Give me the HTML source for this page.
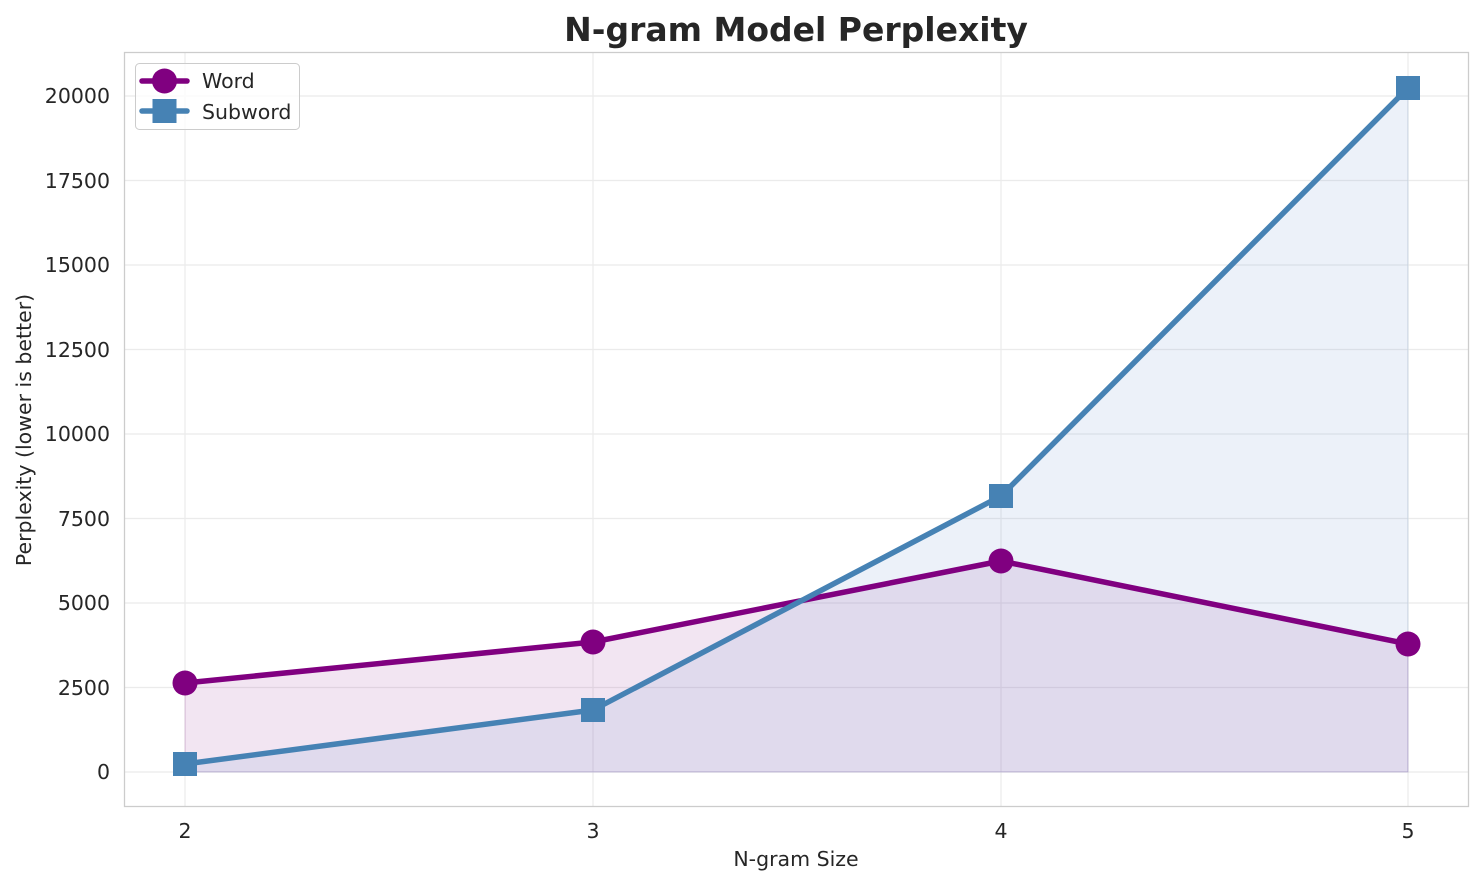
<!DOCTYPE html>
<html><head><style>body{margin:0;background:#fff}svg{display:block;font-family:"DejaVu Sans","Liberation Sans",sans-serif}</style></head>
<body>
<svg width="1484" height="885" viewBox="0 0 1484 885" xmlns="http://www.w3.org/2000/svg">
<rect width="1484" height="885" fill="#fff"/>
<g stroke="#ebebeb" stroke-width="1.2">
<line x1="185" y1="52" x2="185" y2="806"/><line x1="593" y1="52" x2="593" y2="806"/><line x1="1001" y1="52" x2="1001" y2="806"/><line x1="1408" y1="52" x2="1408" y2="806"/>
<line x1="124" y1="772" x2="1469" y2="772"/><line x1="124" y1="687.5" x2="1469" y2="687.5"/><line x1="124" y1="603" x2="1469" y2="603"/><line x1="124" y1="518.5" x2="1469" y2="518.5"/><line x1="124" y1="434" x2="1469" y2="434"/><line x1="124" y1="349.5" x2="1469" y2="349.5"/><line x1="124" y1="265" x2="1469" y2="265"/><line x1="124" y1="180.5" x2="1469" y2="180.5"/><line x1="124" y1="96" x2="1469" y2="96"/>
</g>
<polygon points="185,772 185,683 593,642 1001,561 1408,644 1408,772" fill="#800080" fill-opacity="0.1" stroke="#800080" stroke-opacity="0.15"/>
<polygon points="185,772 185,764 593,710 1001,496 1408,88 1408,772" fill="#6a8fd0" fill-opacity="0.13" stroke="#4682b4" stroke-opacity="0.15"/>
<polyline points="185,683 593,642 1001,561 1408,644" fill="none" stroke="#800080" stroke-width="5.5" stroke-linejoin="round"/>
<g fill="#800080"><circle cx="185" cy="683" r="12.5"/><circle cx="593" cy="642" r="12.5"/><circle cx="1001" cy="561" r="12.5"/><circle cx="1408" cy="644" r="12.5"/></g>
<polyline points="185,764 593,710 1001,496 1408,88" fill="none" stroke="#4682b4" stroke-width="5.5" stroke-linejoin="round"/>
<g fill="#4682b4"><rect x="173" y="752" width="24" height="24"/><rect x="581" y="698" width="24" height="24"/><rect x="989" y="484" width="24" height="24"/><rect x="1396" y="76" width="24" height="24"/></g>
<rect x="124.5" y="52.5" width="1344" height="754" fill="none" stroke="#cccccc" stroke-width="1.3"/>
<g font-size="20.5" fill="#262626" text-anchor="end">
<text x="110" y="779">0</text><text x="110" y="695">2500</text><text x="110" y="610">5000</text><text x="110" y="526">7500</text><text x="110" y="441">10000</text><text x="110" y="357">12500</text><text x="110" y="272">15000</text><text x="110" y="188">17500</text><text x="110" y="103">20000</text>
</g>
<g font-size="20.5" fill="#262626" text-anchor="middle">
<text x="185" y="838">2</text><text x="593" y="838">3</text><text x="1001" y="838">4</text><text x="1408" y="838">5</text>
<text x="796" y="866">N-gram Size</text>
<text x="796" y="41" font-size="33" font-weight="bold">N-gram Model Perplexity</text>
<text transform="translate(31,430) rotate(-90)">Perplexity (lower is better)</text>
</g>
<rect x="135.5" y="63.5" width="164" height="66" rx="4" fill="#fff" fill-opacity="0.8" stroke="#cccccc"/>
<line x1="142" y1="81" x2="187" y2="81" stroke="#800080" stroke-width="5.5" stroke-linecap="round"/>
<circle cx="164.5" cy="81" r="12.5" fill="#800080"/>
<line x1="142" y1="111" x2="187" y2="111" stroke="#4682b4" stroke-width="5.5" stroke-linecap="round"/>
<rect x="152.5" y="99" width="24" height="24" fill="#4682b4"/>
<text x="202" y="88" font-size="20.5" fill="#262626">Word</text>
<text x="202" y="119" font-size="20.5" fill="#262626">Subword</text>
</svg>
</body></html>
